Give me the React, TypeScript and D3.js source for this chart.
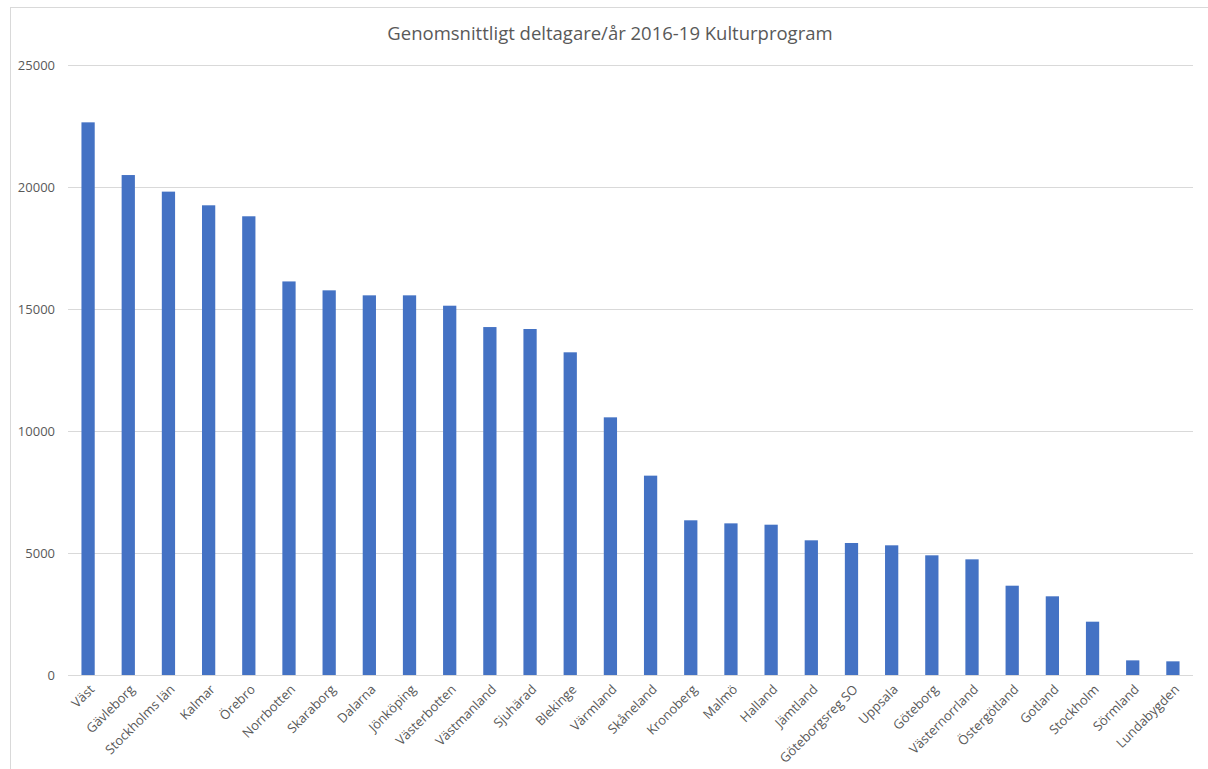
import React from 'react';
import * as d3 from 'd3';

// regions
const categories = [
  'Väst', 'Gävleborg', 'Stockholms län', 'Kalmar', 'Örebro', 'Norrbotten',
  'Skaraborg', 'Dalarna', 'Jönköping', 'Västerbotten', 'Västmanland', 'Sjuhärad',
  'Blekinge', 'Värmland', 'Skåneland', 'Kronoberg', 'Malmö', 'Halland',
  'Jämtland', 'Göteborgsreg SO', 'Uppsala', 'Göteborg', 'Västernorrland',
  'Östergötland', 'Gotland', 'Stockholm', 'Sörmland', 'Lundabygden'
];
const values = [
  22650, 20490, 19810, 19250, 18800, 16130,
  15765, 15560, 15560, 15135, 14260, 14180,
  13225, 10560, 8170, 6340, 6215, 6160,
  5520, 5410, 5315, 4905, 4740,
  3660, 3225, 2185, 600, 560
];
const yTicks = [0, 5000, 10000, 15000, 20000, 25000];
const title = 'Genomsnittligt deltagare/år 2016-19 Kulturprogram';

const W = 1208, H = 769;
const m = { left: 68, right: 15, top: 65, bottom: 94 };
const font = "'Open Sans', 'Liberation Sans', sans-serif";

const App = () => {
  const x = d3.scaleBand<string>()
    .domain(categories)
    .range([m.left, W - m.right])
    .paddingInner(0.67)
    .paddingOuter(0.335);
  const y = d3.scaleLinear().domain([0, 25000]).range([H - m.bottom, m.top]);

  return (
    <svg width={W} height={H} style={{ position: 'absolute', left: 0, top: 0, background: '#fff' }}>
      <rect x={10.5} y={7.5} width={W + 10} height={H + 10} fill="#fff" stroke="#d9d9d9" />
      <text x={610} y={40} textAnchor="middle" fontFamily={font} fontSize={18.5} fill="#595959">
        {title}
      </text>
      {yTicks.map(t => (
        <g key={t}>
          <line x1={m.left} x2={W - m.right} y1={Math.round(y(t)) + 0.5} y2={Math.round(y(t)) + 0.5}
            stroke="#d9d9d9" strokeWidth={1} />
          <text x={55} y={y(t)} dy="0.35em" textAnchor="end" fontFamily={font} fontSize={13} fill="#595959">
            {t}
          </text>
        </g>
      ))}
      {categories.map((c, i) => (
        <rect key={c} x={x(c)} y={y(values[i])} width={x.bandwidth()} height={y(0) - y(values[i])}
          fill="#4472c4" />
      ))}
      {categories.map(c => {
        const cx = (x(c) ?? 0) + x.bandwidth() / 2;
        return (
          <text key={c} transform={`translate(${cx + 4},${y(0) + 12}) rotate(-45)`} textAnchor="end"
            dy="0.35em" fontFamily={font} fontSize={13} fill="#595959">
            {c}
          </text>
        );
      })}
    </svg>
  );
};

export default App;
